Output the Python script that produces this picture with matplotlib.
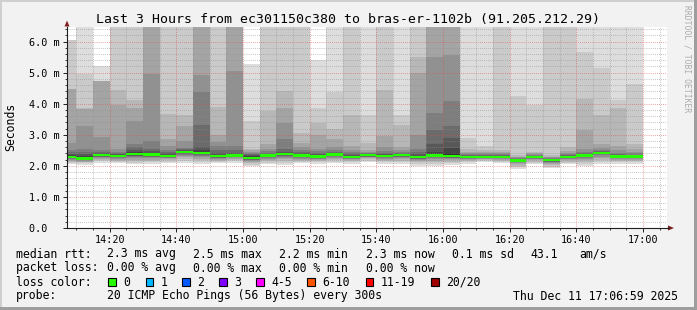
import numpy as np
import matplotlib
matplotlib.use("Agg")
import matplotlib.pyplot as plt
from matplotlib.patches import Rectangle, Polygon
from matplotlib.ticker import MultipleLocator, FixedLocator

plt.rcParams['font.family'] = 'DejaVu Sans Mono'

# start of each 5 minute step
col_start = ["14:05", "14:10", "14:15", "14:20", "14:25", "14:30", "14:35",
             "14:40", "14:45", "14:50", "14:55", "15:00", "15:05", "15:10",
             "15:15", "15:20", "15:25", "15:30", "15:35", "15:40", "15:45",
             "15:50", "15:55", "16:00", "16:05", "16:10", "16:15", "16:20",
             "16:25", "16:30", "16:35", "16:40", "16:45", "16:50", "16:55"]

# median rtt in ms
median_rtt = [2.29, 2.23, 2.35, 2.32, 2.38, 2.36, 2.32, 2.45, 2.42, 2.31,
              2.33, 2.26, 2.33, 2.38, 2.33, 2.30, 2.36, 2.29, 2.35, 2.32,
              2.35, 2.29, 2.33, 2.32, 2.29, 2.29, 2.29, 2.18, 2.29, 2.19,
              2.29, 2.33, 2.42, 2.30, 2.30]

# sorted pings, ping 20 down to ping 11 (7.0 = off the top of the graph)
upper_pings = [
    [6.06, 6.05, 4.48, 4.46, 2.72, 2.50, 2.44, 2.39, 2.35, 2.32],
    [7.0, 4.95, 3.86, 3.84, 3.27, 2.53, 2.46, 2.38, 2.31, 2.26],
    [5.23, 4.74, 4.73, 4.72, 2.92, 2.50, 2.46, 2.42, 2.39, 2.37],
    [7.0, 7.0, 4.45, 3.95, 2.53, 2.46, 2.42, 2.39, 2.36, 2.34],
    [7.0, 7.0, 4.12, 3.86, 3.44, 2.69, 2.60, 2.50, 2.44, 2.41],
    [7.0, 7.0, 7.0, 7.0, 4.96, 2.80, 2.55, 2.47, 2.42, 2.39],
    [7.0, 7.0, 3.67, 2.85, 2.64, 2.50, 2.44, 2.40, 2.36, 2.34],
    [7.0, 7.0, 3.65, 3.28, 2.80, 2.58, 2.54, 2.50, 2.48, 2.47],
    [7.0, 7.0, 7.0, 7.0, 4.93, 4.37, 3.33, 2.60, 2.50, 2.45],
    [7.0, 7.0, 3.91, 3.00, 2.78, 2.65, 2.52, 2.42, 2.36, 2.33],
    [7.0, 7.0, 7.0, 7.0, 5.06, 2.65, 2.50, 2.42, 2.38, 2.35],
    [5.27, 3.45, 2.55, 2.50, 2.46, 2.42, 2.38, 2.34, 2.31, 2.28],
    [7.0, 7.0, 3.78, 2.70, 2.55, 2.48, 2.43, 2.39, 2.36, 2.35],
    [7.0, 7.0, 4.42, 3.86, 3.38, 2.85, 2.55, 2.46, 2.42, 2.40],
    [7.0, 7.0, 3.06, 2.75, 2.60, 2.50, 2.44, 2.40, 2.36, 2.35],
    [5.40, 3.87, 3.38, 3.00, 2.55, 2.48, 2.42, 2.37, 2.33, 2.31],
    [7.0, 4.37, 3.20, 2.85, 2.60, 2.50, 2.45, 2.41, 2.38, 2.37],
    [7.0, 7.0, 3.65, 2.63, 2.52, 2.45, 2.40, 2.35, 2.32, 2.30],
    [7.0, 3.65, 2.75, 2.50, 2.46, 2.43, 2.40, 2.38, 2.37, 2.36],
    [7.0, 7.0, 4.43, 2.96, 2.60, 2.48, 2.42, 2.38, 2.35, 2.33],
    [7.0, 3.65, 3.30, 2.60, 2.50, 2.44, 2.40, 2.38, 2.37, 2.36],
    [7.0, 7.0, 5.50, 4.98, 3.00, 2.55, 2.45, 2.38, 2.33, 2.31],
    [7.0, 7.0, 7.0, 7.0, 5.50, 3.70, 3.17, 2.70, 2.45, 2.36],
    [7.0, 7.0, 7.0, 7.0, 5.57, 4.08, 3.28, 2.90, 2.58, 2.42],
    [7.0, 2.90, 2.55, 2.45, 2.40, 2.37, 2.34, 2.32, 2.31, 2.30],
    [7.0, 2.63, 2.52, 2.45, 2.41, 2.37, 2.34, 2.32, 2.31, 2.30],
    [7.0, 7.0, 2.50, 2.45, 2.40, 2.37, 2.34, 2.32, 2.31, 2.30],
    [7.0, 4.24, 2.35, 2.30, 2.27, 2.25, 2.23, 2.21, 2.20, 2.19],
    [7.0, 3.97, 2.45, 2.40, 2.37, 2.35, 2.33, 2.32, 2.31, 2.30],
    [7.0, 7.0, 2.35, 2.30, 2.27, 2.25, 2.23, 2.22, 2.21, 2.20],
    [7.0, 7.0, 2.60, 2.48, 2.42, 2.38, 2.35, 2.33, 2.31, 2.30],
    [7.0, 5.66, 4.16, 3.14, 2.55, 2.45, 2.40, 2.37, 2.35, 2.34],
    [7.0, 5.14, 3.65, 2.69, 2.58, 2.52, 2.48, 2.46, 2.45, 2.44],
    [7.0, 4.12, 3.86, 2.63, 2.50, 2.42, 2.37, 2.34, 2.32, 2.31],
    [7.0, 4.64, 2.69, 2.55, 2.45, 2.40, 2.36, 2.33, 2.32, 2.31],
]

# sorted pings, ping 1 up to ping 10
lower_pings = [
    [2.06, 2.10, 2.14, 2.17, 2.20, 2.22, 2.24, 2.25, 2.26, 2.27],
    [2.04, 2.08, 2.11, 2.14, 2.16, 2.18, 2.19, 2.20, 2.21, 2.22],
    [2.10, 2.16, 2.20, 2.23, 2.26, 2.28, 2.30, 2.31, 2.32, 2.33],
    [2.08, 2.13, 2.17, 2.20, 2.23, 2.25, 2.27, 2.28, 2.29, 2.30],
    [2.05, 2.10, 2.15, 2.20, 2.24, 2.28, 2.31, 2.33, 2.35, 2.36],
    [2.06, 2.11, 2.16, 2.20, 2.24, 2.27, 2.30, 2.32, 2.33, 2.34],
    [2.10, 2.14, 2.18, 2.21, 2.24, 2.26, 2.27, 2.28, 2.29, 2.30],
    [2.10, 2.16, 2.22, 2.27, 2.31, 2.35, 2.38, 2.40, 2.42, 2.43],
    [2.05, 2.12, 2.18, 2.23, 2.28, 2.32, 2.35, 2.37, 2.39, 2.40],
    [2.08, 2.13, 2.17, 2.20, 2.22, 2.24, 2.26, 2.27, 2.28, 2.29],
    [2.10, 2.15, 2.19, 2.22, 2.25, 2.27, 2.28, 2.29, 2.30, 2.31],
    [1.98, 2.03, 2.08, 2.12, 2.15, 2.18, 2.20, 2.22, 2.23, 2.24],
    [2.05, 2.10, 2.15, 2.19, 2.22, 2.25, 2.27, 2.29, 2.30, 2.31],
    [2.04, 2.10, 2.16, 2.21, 2.25, 2.29, 2.32, 2.34, 2.35, 2.36],
    [2.08, 2.13, 2.17, 2.20, 2.23, 2.26, 2.28, 2.29, 2.30, 2.31],
    [2.06, 2.11, 2.15, 2.18, 2.21, 2.23, 2.25, 2.26, 2.27, 2.28],
    [2.09, 2.14, 2.19, 2.23, 2.26, 2.29, 2.31, 2.32, 2.33, 2.34],
    [2.06, 2.11, 2.15, 2.18, 2.21, 2.23, 2.24, 2.25, 2.26, 2.27],
    [2.12, 2.17, 2.21, 2.24, 2.27, 2.29, 2.30, 2.31, 2.32, 2.33],
    [2.07, 2.12, 2.16, 2.20, 2.23, 2.25, 2.27, 2.28, 2.29, 2.30],
    [2.06, 2.12, 2.17, 2.21, 2.25, 2.28, 2.30, 2.31, 2.32, 2.33],
    [2.00, 2.06, 2.11, 2.15, 2.18, 2.21, 2.23, 2.25, 2.26, 2.27],
    [2.00, 2.06, 2.12, 2.17, 2.21, 2.24, 2.27, 2.29, 2.30, 2.31],
    [2.04, 2.09, 2.14, 2.18, 2.21, 2.24, 2.26, 2.28, 2.29, 2.30],
    [2.07, 2.12, 2.16, 2.19, 2.21, 2.23, 2.24, 2.25, 2.26, 2.27],
    [2.12, 2.16, 2.19, 2.21, 2.23, 2.24, 2.25, 2.26, 2.27, 2.28],
    [2.10, 2.14, 2.17, 2.20, 2.22, 2.24, 2.25, 2.26, 2.27, 2.28],
    [1.90, 1.96, 2.01, 2.05, 2.08, 2.11, 2.13, 2.15, 2.16, 2.17],
    [2.05, 2.10, 2.14, 2.18, 2.21, 2.23, 2.25, 2.26, 2.27, 2.28],
    [1.92, 1.97, 2.02, 2.06, 2.09, 2.12, 2.14, 2.16, 2.17, 2.18],
    [2.05, 2.10, 2.14, 2.18, 2.21, 2.23, 2.25, 2.26, 2.27, 2.28],
    [2.00, 2.07, 2.13, 2.18, 2.22, 2.25, 2.27, 2.29, 2.30, 2.31],
    [2.05, 2.13, 2.20, 2.26, 2.30, 2.34, 2.37, 2.39, 2.40, 2.41],
    [2.06, 2.11, 2.15, 2.19, 2.22, 2.24, 2.26, 2.27, 2.28, 2.29],
    [2.06, 2.11, 2.15, 2.19, 2.22, 2.24, 2.26, 2.27, 2.28, 2.29],
]

x_tick_labels = ["14:20", "14:40", "15:00", "15:20", "15:40", "16:00",
                 "16:20", "16:40", "17:00"]
y_tick_labels = ["0.0  ", "1.0 m", "2.0 m", "3.0 m", "4.0 m", "5.0 m", "6.0 m"]

loss_labels = ["0", "1", "2", "3", "4-5", "6-10", "11-19", "20/20"]
loss_colors = ["#26ff00", "#00b8ff", "#0059ff", "#7e00ff", "#ff00ff",
               "#ff5500", "#ff0000", "#a10000"]


def to_min(s):
    h, m = s.split(":")
    return (int(h) - 14) * 60 + int(m)


W, H = 697, 310
fig = plt.figure(figsize=(W / 100, H / 100), dpi=100, facecolor="#f2f2f2")

ax = fig.add_axes([67 / W, 1 - 228 / H, 600 / W, 201 / H])
ax.set_facecolor("white")

xs = np.array([to_min(s) for s in col_start], dtype=float)
x_edges = np.append(xs, xs[-1] + 5)
up = np.array(upper_pings)
lo = np.array(lower_pings)
med = np.array(median_rtt)


def ext(a):
    return np.append(a, a[-1])


# smoke, outer pings lightest, like smokeping
for k in range(10):
    g = int(190 / 10 * (10 - (k + 1))) + 50
    col = "#%02x%02x%02x" % (g, g, g)
    ax.fill_between(x_edges, ext(lo[:, k]), ext(up[:, k]), step="post",
                    color=col, linewidth=0, zorder=1)

# median line
ax.fill_between(x_edges, ext(med - 0.04), ext(med + 0.04), step="post",
                color=loss_colors[0], linewidth=0, zorder=3)

ax.set_xlim(7.2, 187.2)
ax.set_ylim(0, 6.47)

ax.xaxis.set_major_locator(FixedLocator([to_min(s) for s in x_tick_labels]))
ax.set_xticklabels(x_tick_labels)
ax.xaxis.set_minor_locator(MultipleLocator(5))
ax.yaxis.set_major_locator(FixedLocator([float(s.split()[0]) for s in y_tick_labels]))
ax.set_yticklabels(y_tick_labels)
ax.yaxis.set_minor_locator(MultipleLocator(0.2))

ax.set_axisbelow(False)
ax.grid(which="minor", color=(0.56, 0.56, 0.56, 0.75), linewidth=0.5,
        linestyle=(0, (1, 2)))
ax.grid(which="major", color=(0.87, 0.31, 0.31, 0.6), linewidth=0.5,
        linestyle=(0, (1, 2)))

for side in ["top", "right"]:
    ax.spines[side].set_visible(False)
for side in ["left", "bottom"]:
    ax.spines[side].set_color((0.12, 0.12, 0.12))
    ax.spines[side].set_linewidth(0.8)
    ax.spines[side].set_zorder(5)

ax.tick_params(which="major", direction="out", length=3, width=0.7,
               color=(0.12, 0.12, 0.12), labelsize=7.3, pad=2)
ax.tick_params(which="minor", direction="out", length=1.5, width=0.6,
               color=(0.12, 0.12, 0.12))

# overlay in pixel coordinates for frame, title and legend
ov = fig.add_axes([0, 0, 1, 1], zorder=10)
ov.set_xlim(0, W)
ov.set_ylim(H, 0)
ov.axis("off")

ov.add_patch(Rectangle((0, 0), W, 2, color="#cfcfcf", lw=0))
ov.add_patch(Rectangle((0, 0), 2, H, color="#cfcfcf", lw=0))
ov.add_patch(Rectangle((0, H - 3), W, 3, color="#9e9e9e", lw=0))
ov.add_patch(Rectangle((W - 3, 0), 3, H, color="#9e9e9e", lw=0))

arrow = (0.5, 0.12, 0.12)
ov.add_patch(Polygon([(64.5, 26.5), (69.5, 26.5), (67, 20.5)], closed=True,
                     color=arrow, lw=0))
ov.add_patch(Polygon([(668, 225.5), (668, 230.5), (674, 228)], closed=True,
                     color=arrow, lw=0))
ov.plot([667, 669], [228, 228], color=(0.12, 0.12, 0.12), lw=0.8)

ov.text(10.5, 127, "Seconds", rotation=90, ha="center", va="center",
        fontsize=8.3)
ov.text(347.5, 19, "Last 3 Hours from ec301150c380 to bras-er-1102b (91.205.212.29)",
        ha="center", va="center", fontsize=9.5)
ov.text(686.5, 58.5, "RRDTOOL / TOBI OETIKER", rotation=270, ha="center",
        va="center", fontsize=5.8, color="#ababab")

fs = 8.3
rows = [
    (254, [(15.7, "median rtt:"), (107.3, "2.3 ms avg"), (193.3, "2.5 ms max"),
           (279.3, "2.2 ms min"), (365.7, "2.3 ms now"), (451.7, "0.1 ms sd"),
           (530.0, "43.1"), (579.3, "am/s")]),
    (268, [(15.7, "packet loss:"), (107.3, "0.00 % avg"), (193.3, "0.00 % max"),
           (279.3, "0.00 % min"), (365.7, "0.00 % now")]),
    (282, [(15.7, "loss color:")]),
    (296, [(15.7, "probe:"), (107.3, "20 ICMP Echo Pings (56 Bytes) every 300s"),
           (513.3, "Thu Dec 11 17:06:59 2025")]),
]
for y, items in rows:
    for x, t in items:
        ov.text(x, y, t, ha="left", va="center", fontsize=fs)

box_x = [108.3, 145.7, 182.3, 219.0, 256.0, 307.3, 365.7, 431.0]
for bx, lab, c in zip(box_x, loss_labels, loss_colors):
    ov.add_patch(Rectangle((bx, 278.3), 7.5, 7.5, facecolor=c,
                           edgecolor="black", lw=0.8))
    ov.text(bx + 15, 282, lab, ha="left", va="center", fontsize=fs)

fig.savefig("out.png", dpi=100, facecolor=fig.get_facecolor())
